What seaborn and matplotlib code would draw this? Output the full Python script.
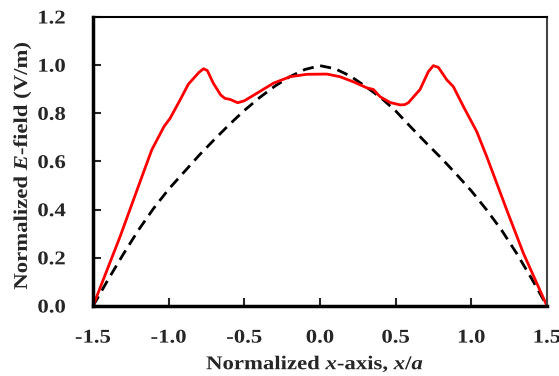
import matplotlib
matplotlib.use("Agg")
import matplotlib.pyplot as plt
import seaborn as sns
import pandas as pd
from matplotlib.patheffects import AbstractPathEffect
from matplotlib.transforms import Affine2D

# Normalized field profiles across the waveguide cross-section
x_red = [-1.5, -1.32, -1.185, -1.112, -1.031, -0.991, -0.925, -0.870, -0.80, -0.77,
         -0.745, -0.705, -0.656, -0.628, -0.595, -0.544, -0.50, -0.418, -0.308,
         -0.198, -0.088, 0.045, 0.132, 0.220, 0.309, 0.353, 0.397, 0.463, 0.529,
         0.56, 0.584, 0.661, 0.716, 0.749, 0.782, 0.838, 0.881, 0.948, 1.036,
         1.102, 1.135, 1.234, 1.344, 1.5]
e_red = [0.0, 0.29, 0.523, 0.648, 0.745, 0.779, 0.855, 0.921, 0.97, 0.985,
         0.978, 0.925, 0.876, 0.862, 0.858, 0.844, 0.852, 0.883, 0.925,
         0.952, 0.962, 0.963, 0.952, 0.931, 0.906, 0.899, 0.869, 0.845, 0.835,
         0.836, 0.844, 0.899, 0.973, 0.998, 0.991, 0.939, 0.911, 0.828, 0.724,
         0.620, 0.565, 0.399, 0.219, 0.0]

x_ref = [-1.5, -1.4, -1.3, -1.2, -1.1, -1.0, -0.9, -0.8, -0.7, -0.6, -0.5,
         -0.4, -0.3, -0.2, -0.1, 0.0, 0.1, 0.2, 0.3, 0.4, 0.5, 0.6, 0.7,
         0.8, 0.9, 1.0, 1.1, 1.2, 1.3, 1.4, 1.5]
e_ref = [0.0, 0.11, 0.215, 0.315, 0.405, 0.485, 0.555, 0.625, 0.69, 0.753,
         0.812, 0.865, 0.912, 0.952, 0.982, 0.998, 0.985, 0.955, 0.912, 0.866,
         0.81, 0.743, 0.678, 0.615, 0.548, 0.478, 0.40, 0.315, 0.218, 0.112, 0.0]

x_ticks = [-1.5, -1.0, -0.5, 0.0, 0.5, 1.0, 1.5]
y_ticks = [0.0, 0.2, 0.4, 0.6, 0.8, 1.0, 1.2]


class Widen(AbstractPathEffect):
    """Draw glyph paths widened along the text direction about their centre."""

    def __init__(self, factor):
        super().__init__()
        self.factor = factor

    def draw_path(self, renderer, gc, tpath, affine, rgbFace=None):
        ext = tpath.get_extents()
        cx = 0.5 * (ext.x0 + ext.x1)
        widen = Affine2D().translate(-cx, 0).scale(self.factor, 1).translate(cx, 0)
        renderer.draw_path(gc, tpath, widen + affine, rgbFace)


sns.set_style("white")
plt.rcParams["font.family"] = ["Liberation Serif", "DejaVu Serif"]
plt.rcParams["font.weight"] = "bold"
plt.rcParams["mathtext.fontset"] = "custom"
plt.rcParams["mathtext.it"] = "Liberation Serif:bold:italic"
plt.rcParams["mathtext.rm"] = "Liberation Serif:bold"

FS = 14
wide = [Widen(1.17)]

fig = plt.figure(figsize=(5.59, 3.76), dpi=100)
ax = fig.add_axes([0.1664, 0.1862, 0.8121, 0.7686])

df_red = pd.DataFrame({"x": x_red, "E": e_red})
df_ref = pd.DataFrame({"x": x_ref, "E": e_ref})

sns.lineplot(data=df_ref, x="x", y="E", ax=ax, color="black", lw=2.0,
             linestyle=(0, (4.0, 2.4)), sort=False, estimator=None)
sns.lineplot(data=df_red, x="x", y="E", ax=ax, color="#ff0000", lw=2.0,
             sort=False, estimator=None)

ax.set_xlim(-1.5, 1.5)
ax.set_ylim(0, 1.2)
ax.set_xticks(x_ticks)
ax.set_yticks(y_ticks)
ax.set_xticklabels([f"{v:.1f}" for v in x_ticks], fontsize=FS, fontweight="bold",
                   path_effects=wide)
ax.set_yticklabels([f"{v:.1f}" for v in y_ticks], fontsize=FS, fontweight="bold",
                   path_effects=wide)
ax.tick_params(axis="both", direction="in", length=5.5, width=1.5,
               bottom=True, left=True, top=False, right=False)
ax.tick_params(axis="x", pad=17)
ax.tick_params(axis="y", pad=21)

ax.set_xlabel("Normalized $x$-axis, $x/a$", fontsize=FS, fontweight="bold",
              path_effects=wide)
ax.set_ylabel("Normalized $E$-field (V/m)", fontsize=FS, fontweight="bold",
              path_effects=wide)
ax.xaxis.set_label_coords(0.49, -0.168)
ax.yaxis.set_label_coords(-0.132, 0.488)

for side in ("left", "bottom"):
    ax.spines[side].set_linewidth(2.5)
    ax.spines[side].set_color("black")
ax.spines["top"].set_linewidth(1.5)
ax.spines["top"].set_color("black")
ax.spines["right"].set_linewidth(1.5)
ax.spines["right"].set_color("#444444")
for s in ax.spines.values():
    s.set_visible(True)

fig.savefig("out.png", dpi=100)
